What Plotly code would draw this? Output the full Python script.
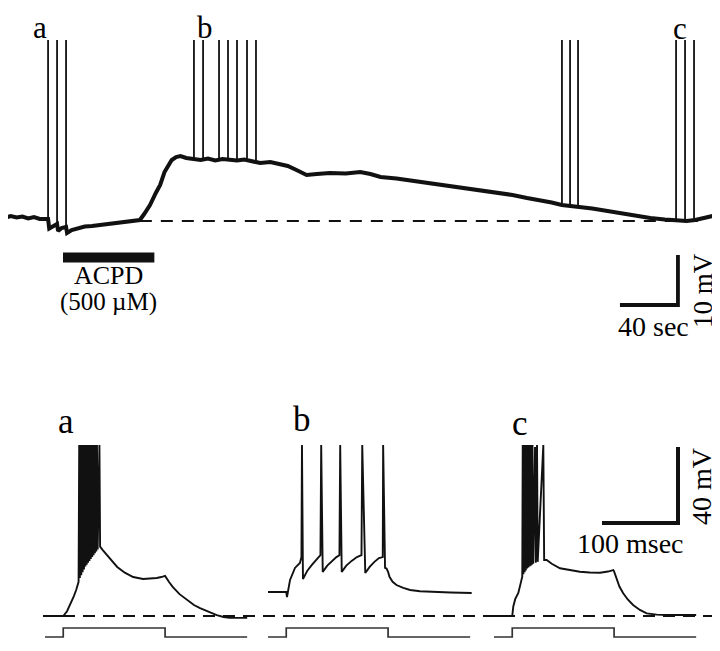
import plotly.graph_objects as go

W, H = 720, 651
OFF = 8  # the page body adds an 8px margin; all pixel positions below are reference-frame pixels

# ---- top record: slow ACPD response (time in s, membrane potential in mV)
rest_mV = -60
top_t = [0, 4, 8, 12, 16, 20, 24, 28, 29.7, 30.5, 33, 35.9, 36.6, 39, 42.1, 42.8, 46, 50, 55, 60,
         65, 70, 75, 80, 85, 90, 93, 96, 100, 104, 107, 110, 113, 115, 118, 121, 125, 130, 135, 140,
         145, 150, 155, 160, 165, 170, 176, 183, 190, 195, 201, 208, 215, 224, 235, 245, 252, 259, 270, 282,
         290, 300, 314, 327, 340, 350, 360, 369, 377, 384, 390, 396, 405, 415, 423, 431, 438, 445, 455, 463,
         470, 476, 482, 488]
top_mV = [-59.4, -59.0, -59.3, -59.1, -59.5, -59.2, -59.6, -59.5, -59.6, -61.5, -61.0, -60.6, -62.0, -61.4, -61.2, -62.4, -61.8, -61.4, -61.1, -61.0,
          -60.8, -60.7, -60.5, -60.4, -60.2, -60.0, -59.8, -58.6, -56.8, -54.4, -52.8, -50.2, -48.6, -47.8, -47.2, -47.0, -47.4, -47.6, -47.8, -47.5,
          -47.9, -47.6, -47.8, -47.9, -47.7, -48.0, -48.4, -48.2, -48.6, -49.0, -49.8, -50.8, -50.6, -50.4, -50.5, -50.2, -50.6, -51.2, -51.5, -52.0,
          -52.3, -52.8, -53.4, -53.8, -54.4, -54.8, -55.4, -55.8, -56.3, -56.8, -56.9, -57.2, -57.5, -58.0, -58.4, -58.8, -59.1, -59.4, -59.7, -59.9,
          -60.0, -59.8, -59.4, -59.0]
top_spike_t = [29.7, 35.9, 42.1, 130.3, 136.6, 147.6, 153.8, 160.0, 166.9, 173.1, 384.1, 389.7, 395.2, 462.8, 469.0, 475.2]
top_spike_foot = [-59.6, -60.6, -61.2, -47.6, -47.8, -47.5, -47.8, -47.9, -47.7, -48.0, -56.8, -56.9, -57.2, -59.9, -60.0, -59.9]
top_spike_peak = -23.8
acpd_on, acpd_off = 40, 103
sweep_labels = ["a", "b", "c"]

# ---- bottom sweeps, depolarising current step (time in ms, mV)
a_t = [0, 24, 29, 33, 38, 41, 44.2,
       45.0, 45.9, 46.8, 47.7, 48.6, 49.5, 50.4, 51.3, 52.2, 53.1, 54.0, 54.9, 55.8, 56.7, 57.6, 58.5,
       59.4, 60.3, 61.2, 62.1, 63.0, 63.9, 64.8, 65.7, 66.6, 67.5, 68.4, 69.3, 71.6, 72.5,
       76, 85, 95, 105, 116, 129, 140, 147, 153, 158, 163, 168, 177, 187, 196, 204, 215, 226, 235, 243, 266]
a_mV = [-60, -60, -57.5, -54.2, -49.5, -46.3, -42,
        30, -40, 30, -38.5, 30, -37, 30, -35.5, 30, -34, 30, -33, 30, -32, 30, -31,
        30, -30, 30, -29, 30, -28, 30, -27, 30, -26, 30, -25, 30, -23.5,
        -25.3, -29.5, -34.2, -37.2, -39.5, -40.5, -40.3, -40, -39.5, -38.9, -42, -44.7, -48.5, -51.6, -54.2, -55.8, -57.8, -59.5, -60.5, -61, -61]

b_t = [0, 22, 24, 25, 29, 35.5, 42, 44, 44.7, 46, 52, 58, 64, 69, 70, 72, 78, 84, 90, 94, 95, 97,
       103, 110, 117, 123, 124, 128, 134, 140, 146, 151, 151.5, 154, 156, 158, 160, 164, 169, 178, 187,
       200, 217, 240, 268]
b_mV = [-47.4, -47.6, -47.4, -50, -41, -34.7, -32.1, -29, 30, -40.5, -36, -33, -30, -28, 30, -36.8, -33.5, -31, -29, -28, 30, -36.8,
        -33.5, -31, -29, -28, 30, -37.4, -34, -31.5, -29.5, -29, 30, -34.7, -35, -36.8, -39.5, -42, -43.7, -45.2, -46.3,
        -47, -47.4, -47.6, -47.9]

c_t = [0, 24, 25.4, 28, 32, 35, 37.2,
       37.8, 38.7, 39.4, 40.3, 41.0, 41.9, 42.6, 43.5, 44.2, 45.1, 45.8, 46.7, 47.4, 48.3, 49.0, 49.9, 50.6, 51.5,
       54.0, 54.9, 56.6, 57.5, 64.9, 66,
       69.3, 76, 86.8, 100, 113, 126, 139.5, 150, 157, 158, 161.5, 165, 170, 176, 183, 192, 201, 214, 227, 245, 266]
c_mV = [-60, -60, -55, -51, -47.9, -42, -39.3,
        30, -38, 30, -37, 30, -36, 30, -35, 30, -34.5, 30, -34, 30, -33.5, 30, -33, 30, -32.5,
        29, -32, 30, -31.5, 30, -30.5,
        -30.5, -32.5, -34.9, -36, -36.7, -37.1, -37.2, -36.6, -35.8, -36.5, -41, -44.5, -48, -51.3, -54.2, -56.8, -58.6, -59.3, -59.5, -59.6, -59.5]

stim_on, stim_off, sweep_end, stim_nA = 24, 158, 266, 0.2
stim_t = [0, stim_on, stim_on, stim_off, stim_off, sweep_end]
stim_i = [0, 0, stim_nA, stim_nA, 0, 0]

FONT = "Liberation Serif, Times New Roman, serif"
INK = "#111111"


def paper(x, y):
    # reference pixel -> paper coords
    return (x - OFF) / W, 1 - (y - OFF) / H


def xax(x0, x1, origin_px, px_per_unit, anchor):
    d0, d1 = max(0, (x0 - OFF) / W), min(1, (x1 - OFF) / W)
    p0, p1 = d0 * W + OFF, d1 * W + OFF
    return dict(domain=[d0, d1], range=[(p0 - origin_px) / px_per_unit, (p1 - origin_px) / px_per_unit],
                visible=False, fixedrange=True, anchor=anchor)


def yax(y0, y1, origin_px, origin_val, px_per_unit, anchor):
    dtop, dbot = min(1, 1 - (y0 - OFF) / H), max(0, 1 - (y1 - OFF) / H)
    ptop, pbot = (1 - dtop) * H + OFF, (1 - dbot) * H + OFF
    return dict(domain=[dbot, dtop],
                range=[origin_val + (origin_px - pbot) / px_per_unit, origin_val + (origin_px - ptop) / px_per_unit],
                visible=False, fixedrange=True, anchor=anchor)


fig = go.Figure()

# top trace + spikes
fig.add_trace(go.Scatter(x=top_t, y=top_mV, mode="lines", line=dict(color=INK, width=4),
                         xaxis="x", yaxis="y"))
sx, sy = [], []
for t, f in zip(top_spike_t, top_spike_foot):
    sx += [t, t, None]
    sy += [f, top_spike_peak, None]
fig.add_trace(go.Scatter(x=sx, y=sy, mode="lines", line=dict(color=INK, width=1.8),
                         xaxis="x", yaxis="y"))
# ACPD application bar
fig.add_trace(go.Scatter(x=[acpd_on, acpd_off], y=[-67.3, -67.3], mode="lines",
                         line=dict(color=INK, width=10), xaxis="x", yaxis="y"))
# top scale bar: 40 s / 10 mV
fig.add_trace(go.Scatter(x=[464.1 - 40, 464.1, 464.1], y=[-76.8, -76.8, -76.8 + 10], mode="lines",
                         line=dict(color=INK, width=3.8), xaxis="x", yaxis="y"))

# bottom sweeps
for xa, t, v in (("x2", a_t, a_mV), ("x3", b_t, b_mV), ("x4", c_t, c_mV)):
    fig.add_trace(go.Scatter(x=t, y=v, mode="lines", line=dict(color=INK, width=1.9),
                             xaxis=xa, yaxis="y2"))
    fig.add_trace(go.Scatter(x=stim_t, y=stim_i, mode="lines", line=dict(color="#333333", width=1.7),
                             xaxis=xa, yaxis="y3"))
# bottom scale bar: 100 ms / 40 mV
fig.add_trace(go.Scatter(x=[242.1 - 100, 242.1, 242.1], y=[-11.05, -11.05, -11.05 + 40], mode="lines",
                         line=dict(color=INK, width=4), xaxis="x4", yaxis="y2"))

# resting potential dashed lines
fig.add_shape(type="line", xref="x", yref="y", x0=93, x1=480, y0=rest_mV, y1=rest_mV,
              line=dict(color=INK, width=2.2, dash="12px,9px"))
fig.add_shape(type="line", xref="paper", yref="y2", x0=(43 - OFF) / W, x1=(712 - OFF) / W,
              y0=rest_mV, y1=rest_mV, line=dict(color=INK, width=2.2, dash="12px,8px"))

annots = []


def label(text, x, y, size=28, angle=0):
    px_, py_ = paper(x, y)
    annots.append(dict(text=text, x=px_, y=py_, xref="paper", yref="paper", showarrow=False,
                       xanchor="center", yanchor="middle", textangle=angle,
                       font=dict(family=FONT, size=size, color="black")))


for s, (x, y) in zip(sweep_labels, [(40, 27), (205, 27), (680, 28)]):
    label(s, x, y, 31)
for s, (x, y) in zip(sweep_labels, [(66, 421), (302, 419), (520, 423)]):
    label(s, x, y, 35)
label("ACPD", 108, 275, 26)
label("(500 µM)", 108, 302, 25)
label("40 sec", 653, 326, 28)
label("10 mV", 703, 291, 27, -90)
label("100 msec", 630, 543, 28)
label("40 mV", 701, 487, 28, -90)

fig.update_layout(
    width=W, height=H, margin=dict(l=0, r=0, t=0, b=0),
    paper_bgcolor="white", plot_bgcolor="rgba(0,0,0,0)", showlegend=False,
    xaxis=xax(0, 728, 5, 1.45, "y"),
    yaxis=yax(0, 340, 221, rest_mV, 5, "x"),
    xaxis2=xax(0, 255, 45, 0.76, "y2"),
    xaxis3=xax(255, 480, 268, 0.76, "y2"),
    xaxis4=xax(480, 728, 494, 0.76, "y2"),
    yaxis2=yax(380, 659, 616, rest_mV, 1.9, "x2"),
    yaxis3=yax(620, 645, 637, 0, 45, "x2"),
    annotations=annots,
)

fig.write_html("out.html")
